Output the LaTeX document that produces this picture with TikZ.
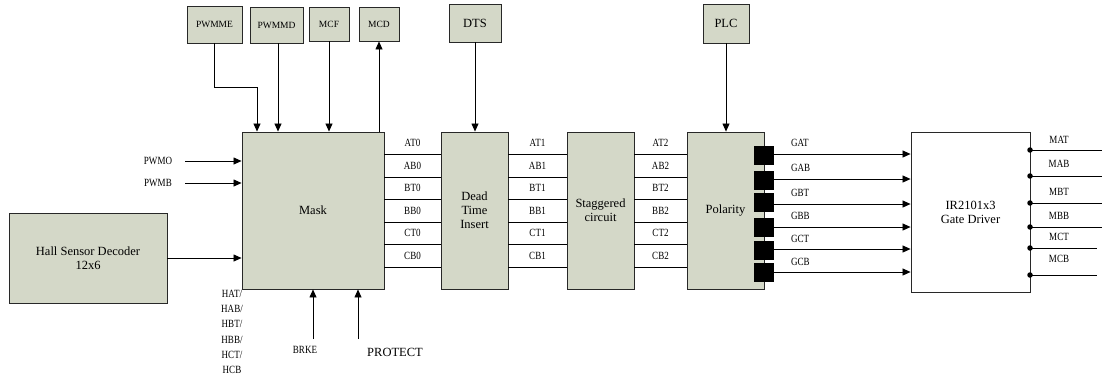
\documentclass[tikz,border=0pt]{standalone}
\usepackage{fontspec}
\setmainfont{Liberation Serif}
\newfontfamily\narrowfont[FakeStretch=0.82]{Liberation Serif}
\usetikzlibrary{arrows.meta}
\definecolor{boxfill}{RGB}{212,216,200}
\definecolor{edge}{RGB}{40,40,40}
\tikzset{
  blk/.style={draw=edge, line width=0.9pt, fill=boxfill, inner sep=0pt, align=center, font=\fontsize{12.5}{14}\selectfont},
  smallblk/.style={blk, font=\fontsize{9.5}{11}\selectfont},
  lbl/.style={inner sep=0pt, font=\narrowfont\fontsize{11}{12}\selectfont},
  arr/.style={line width=0.7pt, -{Triangle[length=8pt,width=7pt]}},
  wire/.style={line width=0.7pt},
  pad/.style={fill=black, draw=black, minimum width=19pt, minimum height=18pt, inner sep=0pt},
  dot/.style={circle, fill=black, minimum size=5.5pt, inner sep=0pt}
}
\begin{document}
\begin{tikzpicture}[x=1pt,y=-1pt]
\useasboundingbox (0,0) rectangle (1102,381);
% main blocks
\node[blk, minimum width=142pt, minimum height=157pt] (mask) at (313,210.5) {Mask};
\node[blk, minimum width=67pt, minimum height=157pt] (dti) at (474.5,210.5) {Dead\\Time\\Insert};
\node[blk, minimum width=67pt, minimum height=157pt] (stag) at (600.5,210.5) {Staggered\\circuit};
\node[blk, minimum width=77pt, minimum height=157pt] (pol) at (725.5,210.5) {Polarity};
\node[blk, fill=white, minimum width=119pt, minimum height=160pt] (gd) at (970.5,212) {IR2101x3\\Gate Driver};
\node[blk, minimum width=158pt, minimum height=90pt] (hall) at (88,258) {Hall Sensor Decoder\\12x6};
% top blocks
\node[smallblk, minimum width=55pt, minimum height=37pt] (pwmme) at (214.5,24.5) {PWMME};
\node[smallblk, minimum width=53pt, minimum height=36pt] (pwmmd) at (276.5,25) {PWMMD};
\node[smallblk, minimum width=40pt, minimum height=34pt] (mcf) at (329,24) {MCF};
\node[smallblk, minimum width=40pt, minimum height=34pt] (mcd) at (379,24) {MCD};
\node[blk, minimum width=52pt, minimum height=38pt] (dts) at (475,23) {DTS};
\node[blk, minimum width=46pt, minimum height=39pt] (plc) at (726,23.5) {PLC};
% top connections
\coordinate (pme1) at (214,87);
\coordinate (pme2) at (257,87);
\draw[arr] (pwmme.south -| pme1) -- (pme1) -- (pme2) -- (pme2 |- mask.north);
\draw[arr] (pwmmd.south -| 278,0) -- (278,0 |- mask.north);
\draw[arr] (mcf.south) -- (mcf.south |- mask.north);
\draw[arr] (mcd.south |- mask.north) -- (mcd.south);
\draw[arr] (dts.south) -- (dts.south |- dti.north);
\draw[arr] (plc.south) -- (plc.south |- pol.north);
% left inputs
\node[lbl] (pwmo) at (158,161) {PWMO};
\node[lbl] (pwmb) at (158,183) {PWMB};
\coordinate (pwmoS) at (185,161);
\coordinate (pwmbS) at (185,183);
\draw[arr] (pwmoS) -- (pwmoS -| mask.west);
\draw[arr] (pwmbS) -- (pwmbS -| mask.west);
\draw[arr] (hall.east |- 0,258) -- (mask.west |- 0,258);
\node[lbl, align=center, font=\narrowfont\fontsize{11}{15.2}\selectfont, anchor=north] (hlab) at (232,290) {HAT/\\HAB/\\HBT/\\HBB/\\HCT/\\HCB};
% bottom inputs
\coordinate (brkeS) at (313,339);
\coordinate (protS) at (358,339);
\draw[arr] (brkeS) -- (brkeS |- mask.south);
\draw[arr] (protS) -- (protS |- mask.south);
\node[lbl] (brke) at (305,350) {BRKE};
\node[inner sep=0pt, font=\fontsize{12.5}{14}\selectfont] (prot) at (395,352) {PROTECT};
% bus lines
\foreach \y/\a/\b/\c [count=\i] in {154/AT0/AT1/AT2,177/AB0/AB1/AB2,199/BT0/BT1/BT2,222/BB0/BB1/BB2,244/CT0/CT1/CT2,267/CB0/CB1/CB2}{
  \draw[wire] (mask.east |- 0,\y) -- (dti.west |- 0,\y);
  \draw[wire] (dti.east |- 0,\y) -- (stag.west |- 0,\y);
  \draw[wire] (stag.east |- 0,\y) -- (pol.west |- 0,\y);
  \node[lbl] (la\i) at (412.5,\y-11) {\a};
  \node[lbl] (lb\i) at (537.5,\y-11) {\b};
  \node[lbl] (lc\i) at (660.5,\y-11) {\c};
}
% polarity pads and gate arrows
\foreach \py/\ay/\ly/\t [count=\i] in {155.5/154/143/GAT,180/179/168/GAB,202.5/204/193/GBT,227.5/227/216/GBB,250/249/239/GCT,272.5/272/262/GCB}{
  \node[pad] (p\i) at (763.5,\py) {};
  \draw[arr] (p\i.east |- 0,\ay) -- (gd.west |- 0,\ay);
  \node[lbl, anchor=west] (g\i) at (791,\ly) {\t};
}
% gate driver outputs
\foreach \y/\e/\ly/\t [count=\i] in {150/1102/140/MAT,176/1102/164/MAB,203/1102/192/MBT,227/1102/216/MBB,248/1097/237/MCT,275/1097/259/MCB}{
  \node[dot] (d\i) at (1030,\y) {};
  \coordinate (e\i) at (\e,\y);
  \draw[wire] (d\i.center) -- (e\i);
  \node[lbl] (m\i) at (1059,\ly) {\t};
}
\end{tikzpicture}
\end{document}
